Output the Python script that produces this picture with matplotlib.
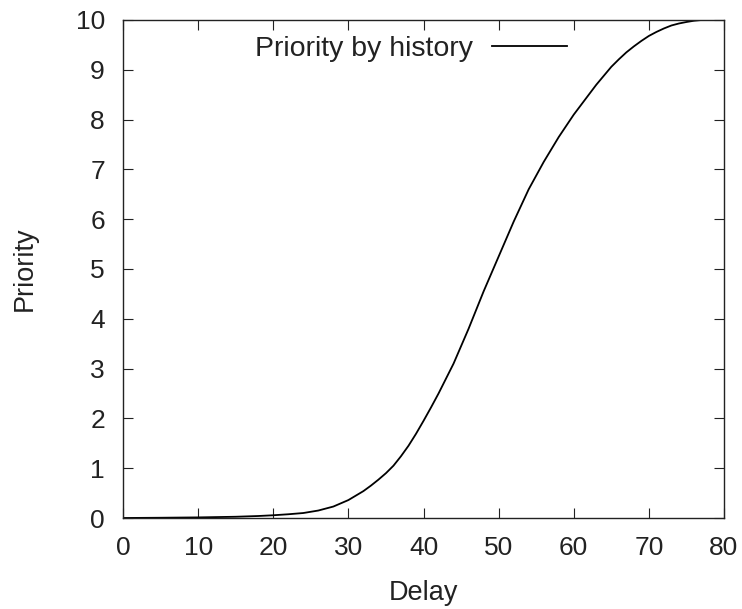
import matplotlib
matplotlib.use("Agg")
import matplotlib.pyplot as plt

plt.rcParams['font.family'] = ['Liberation Sans', 'DejaVu Sans']

delay = [0, 5, 10, 15, 18, 20, 22, 24, 26, 28, 30, 32, 33, 34, 35, 36, 37, 38,
         39, 40, 41, 42, 44, 46, 48, 50, 52, 54, 56, 58, 60, 62, 63, 64, 65, 66,
         67, 68, 69, 70, 71, 72, 73, 74, 75, 76, 77]
priority = [0, 0.005, 0.012, 0.025, 0.04, 0.055, 0.075, 0.1, 0.15, 0.23, 0.36,
            0.54, 0.65, 0.77, 0.9, 1.05, 1.24, 1.45, 1.69, 1.95, 2.22, 2.5, 3.1,
            3.8, 4.55, 5.25, 5.95, 6.6, 7.15, 7.65, 8.1, 8.5, 8.7, 8.88, 9.06,
            9.21, 9.35, 9.47, 9.58, 9.68, 9.76, 9.83, 9.89, 9.93, 9.96, 9.985,
            10.0]
series_label = "Priority by history"
xticks = list(range(0, 81, 10))
yticks = list(range(0, 11))

fig = plt.figure(figsize=(7.42, 6.09), dpi=100)
ax = fig.add_axes([123/742, 91/609, 601/742, 498/609])
ax.plot(delay, priority, color='black', lw=1.3, label=series_label)
ax.set_xlim(0, 80)
ax.set_ylim(0, 10)
ax.set_xticks(xticks)
ax.set_yticks(yticks)
ax.tick_params(direction='in', length=7, width=0.8, top=True, right=True,
               labelsize=19, colors='#222222')
ax.tick_params(axis='x', pad=13)
ax.tick_params(axis='y', pad=13)
for s in ax.spines.values():
    s.set_linewidth(1.0)
    s.set_color('#222222')
ax.set_xlabel("Delay", fontsize=19.5, labelpad=14, color='#222222')
ax.set_ylabel("Priority", fontsize=19.5, labelpad=27, color='#222222')
leg = ax.legend(loc='upper right', bbox_to_anchor=(0.738, 0.967), frameon=False,
                markerfirst=False, fontsize=20.5, handlelength=2.63,
                handletextpad=0.67, borderpad=0, borderaxespad=0)
for t in leg.get_texts():
    t.set_color('#222222')
fig.savefig("out.png", dpi=100)
